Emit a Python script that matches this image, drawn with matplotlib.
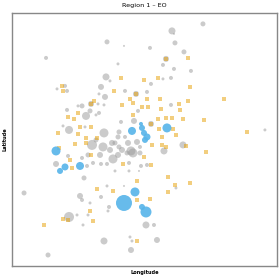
import numpy as np
import matplotlib
matplotlib.use("Agg")
import matplotlib.pyplot as plt

# gray points: longitude, latitude, marker diameter
gray_lon = [203,172,174,107,124,175,150,46,184,166,118,163,174,191,106,110,163,171,151,65,57,67,101,125,136,147,105,99,98,104,91,82,78,171,67,90,99,86,138,96,134,121,151,63,85,69,104,119,265,118,92,103,112,119,128,131,137,164,183,68,82,88,100,113,118,127,133,140,101,107,93,129,141,147,56,87,115,129,139,84,176,24,107,124,80,101,82,90,109,108,69,77,88,83,146,154,104,130,132,157,131,48,110,122,96,125,140,115]
gray_lat = [24,31,34,42,46,43,48,58,52,59,64,65,69,71,77,81,79,78,84,86,89,91,87,91,94,92,97,94,104,105,104,106,106,105,110,111,113,116,111,115,121,122,124,126,127,130,133,132,130,137,145,147,143,147,143,151,142,151,145,156,158,155,155,159,155,153,153,153,164,164,163,163,166,165,164,166,171,171,171,178,188,193,186,186,196,197,200,203,207,211,217,215,215,225,225,225,241,237,241,240,250,255,150,150,140,137,147,143]
gray_size = [5,7,2,5,2,5,4,4,5,6,3,4,4,4,7,3,3,4,4,4,3,4,6,4,6,4,6,3,3,3,6,5,3,4,4,5,4,8,4,3,6,4,6,3,3,8,9,5,3,5,10,9,6,5,6,9,6,7,7,4,4,5,6,9,6,5,9,5,4,4,4,4,4,4,6,4,3,3,2,5,3,5,3,2,6,4,4,3,4,3,10,3,3,3,7,4,7,3,3,6,6,5,6,6,5,4,4,5]

# orange squares
orange_lon = [188,166,121,144,158,190,62,63,114,136,160,147,130,94,188,224,91,122,133,179,142,148,161,180,78,133,68,74,158,166,172,183,204,151,80,91,58,173,159,247,162,176,78,86,97,59,75,86,152,162,166,186,206,70,91,144,123,151,72,168,137,175,190,97,113,168,137,150,90,63,68,93,44,137]
orange_lat = [58,59,78,80,78,87,86,91,91,94,99,99,99,101,101,99,104,105,103,104,107,107,109,110,113,115,117,119,119,118,118,119,120,124,127,127,133,129,129,132,137,135,134,138,138,148,144,143,145,145,147,146,152,160,155,157,164,165,168,177,181,185,183,189,191,192,200,199,211,219,220,221,225,241]

# blue points
blue_lon = [141,132,142,144,167,147,145,56,65,60,80,135,124,142,146]
blue_lat = [124,131,128,133,128,137,140,151,167,171,166,192,203,207,212]
blue_size = [4,8,6,6,9,7,6,9,7,6,8,9,16,6,11]

fig = plt.figure(figsize=(2.8, 2.8), dpi=100)
ax = fig.add_axes([0.043, 0.05, 0.946, 0.904])

def s(d):
    return (np.array(d) * 0.72) ** 2

ax.scatter(gray_lon, gray_lat, s=s(gray_size), c="#999999", alpha=0.5, linewidths=0)
ax.scatter(orange_lon, orange_lat, s=11, marker="s", c="#E69F00", alpha=0.5, linewidths=0)
ax.scatter(blue_lon, blue_lat, s=s(blue_size), c="#56B4E9", alpha=0.9, linewidths=0)

ax.set_xlim(12, 277)
ax.set_ylim(266, 13)
ax.set_xticks([])
ax.set_yticks([])
for sp in ax.spines.values():
    sp.set_color("#888888")
    sp.set_linewidth(1)

ax.set_title("Region 1 \u2013 EO", fontsize=4.6, pad=4)
ax.set_xlabel("Longitude", fontsize=3.6, fontweight="bold", labelpad=3)
ax.set_ylabel("Latitude", fontsize=3.6, fontweight="bold", labelpad=3)

fig.savefig("out.png", dpi=100)
